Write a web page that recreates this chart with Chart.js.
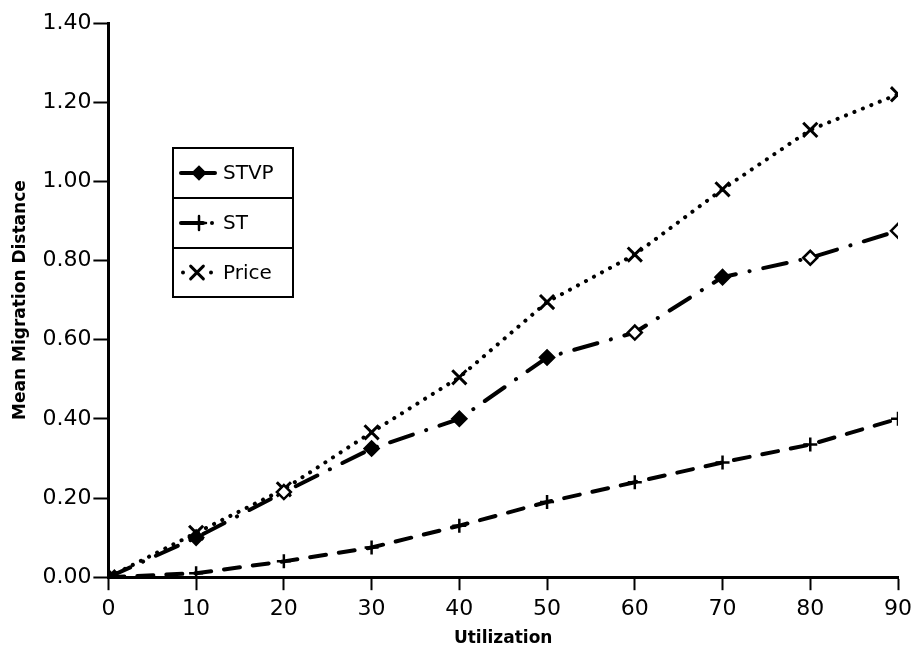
<!DOCTYPE html>
<html>
<head>
<meta charset="utf-8">
<script src="https://cdn.jsdelivr.net/npm/chart.js@4.4.0/dist/chart.umd.min.js"></script>
<style>
  html, body { margin: 0; padding: 0; background: #fff; }
  #wrap { width: 918px; height: 649px; }
</style>
</head>
<body>
<div id="wrap"><canvas id="chart" width="918" height="649"></canvas></div>
<script>
const utilization = [0, 10, 20, 30, 40, 50, 60, 70, 80, 90]
const stvpValues = [0.00, 0.10, 0.215, 0.325, 0.40, 0.555, 0.618, 0.758, 0.807, 0.875]
const stValues = [0.00, 0.01, 0.04, 0.075, 0.13, 0.19, 0.24, 0.29, 0.335, 0.40]
const priceValues = [0.00, 0.112, 0.222, 0.366, 0.505, 0.695, 0.815, 0.98, 1.13, 1.22]
// which STVP markers look hollow in the picture
const stvpHollow = [false, false, true, false, false, false, true, false, true, true]

const seriesNames = ['STVP', 'ST', 'Price']

function toPoints(values) {
    return values.map((v, i) => ({x: utilization[i], y: v}))
}

const fontFamily = "'DejaVu Sans', sans-serif"

const legendBox = {
    id: 'legendBox',
    afterDraw(chart) {
        const ctx = chart.ctx
        const left = 173, w = 120
        const rowTops = [148, 198, 248, 297]
        const draw = Chart.helpers.drawPoint
        ctx.save()
        ctx.strokeStyle = '#000'
        ctx.fillStyle = '#000'
        for (let i = 0; i < 3; i++) {
            const top = rowTops[i]
            const h = rowTops[i + 1] - top
            const cy = top + h / 2
            ctx.lineWidth = 2
            ctx.setLineDash([])
            ctx.strokeRect(left, top, w, h)
            ctx.lineWidth = 4
            ctx.lineCap = 'round'
            if (i === 0) {
                ctx.beginPath(); ctx.moveTo(left + 8, cy); ctx.lineTo(left + 42, cy); ctx.stroke()
                ctx.lineWidth = 2.5
                draw(ctx, {pointStyle: 'rectRot', radius: 6, rotation: 0, borderWidth: 2.5}, left + 26, cy)
                ctx.fill()
            } else if (i === 1) {
                ctx.beginPath(); ctx.moveTo(left + 8, cy); ctx.lineTo(left + 30, cy); ctx.stroke()
                ctx.beginPath(); ctx.arc(left + 39, cy, 2, 0, Math.PI * 2); ctx.fill()
                ctx.lineWidth = 2.5
                draw(ctx, {pointStyle: 'cross', radius: 7, rotation: 0, borderWidth: 2.5}, left + 26, cy)
            } else {
                ctx.beginPath(); ctx.arc(left + 10, cy, 2, 0, Math.PI * 2); ctx.fill()
                ctx.beginPath(); ctx.arc(left + 38, cy, 2, 0, Math.PI * 2); ctx.fill()
                ctx.lineWidth = 3
                draw(ctx, {pointStyle: 'crossRot', radius: 9, rotation: 0, borderWidth: 3}, left + 24, cy)
            }
            ctx.font = '20px ' + fontFamily
            ctx.textBaseline = 'middle'
            ctx.textAlign = 'left'
            ctx.fillText(seriesNames[i], left + 50, cy + 1)
        }
        ctx.restore()
    }
}

const chartConfig = {
    type: 'line',
    data: {
        datasets: [{
            label: seriesNames[0],
            data: toPoints(stvpValues),
            borderColor: '#000',
            borderWidth: 4,
            borderCapStyle: 'round',
            borderDash: [24, 14, 0.1, 14],
            pointStyle: 'rectRot',
            pointRadius: 7,
            pointBorderWidth: 2.5,
            pointBorderColor: '#000',
            pointBackgroundColor: stvpHollow.map(h => h ? '#fff' : '#000'),
            tension: 0
        }, {
            label: seriesNames[1],
            data: toPoints(stValues),
            borderColor: '#000',
            borderWidth: 4,
            borderCapStyle: 'round',
            borderDash: [16, 13],
            pointStyle: 'cross',
            pointRadius: 7,
            pointBorderWidth: 2.5,
            pointBorderColor: '#000',
            tension: 0
        }, {
            label: seriesNames[2],
            data: toPoints(priceValues),
            borderColor: '#000',
            borderWidth: 4,
            borderCapStyle: 'round',
            borderDash: [0.1, 9],
            pointStyle: 'crossRot',
            pointRadius: 10,
            pointBorderWidth: 3,
            pointBorderColor: '#000',
            tension: 0
        }]
    },
    options: {
        responsive: false,
        animation: false,
        layout: {
            padding: {top: 23, right: 13, left: 8, bottom: 0}
        },
        plugins: {
            legend: {display: false},
            tooltip: {enabled: false}
        },
        scales: {
            x: {
                type: 'linear',
                min: 0,
                max: 90,
                ticks: {
                    stepSize: 10,
                    color: '#000',
                    padding: 6,
                    font: {family: fontFamily, size: 22}
                },
                grid: {
                    drawOnChartArea: false,
                    tickLength: 13,
                    tickColor: '#000',
                    tickWidth: 2
                },
                border: {color: '#000', width: 3},
                title: {
                    display: true,
                    text: 'Utilization',
                    color: '#000',
                    padding: {top: 0, bottom: 0},
                    font: {family: fontFamily, size: 17, weight: 'bold'}
                }
            },
            y: {
                min: 0,
                max: 1.4,
                ticks: {
                    stepSize: 0.2,
                    color: '#000',
                    padding: 2,
                    font: {family: fontFamily, size: 22},
                    callback: v => Number(v).toFixed(2)
                },
                grid: {
                    drawOnChartArea: false,
                    tickLength: 15,
                    tickColor: '#000',
                    tickWidth: 2
                },
                border: {color: '#000', width: 3},
                title: {
                    display: true,
                    text: 'Mean Migration Distance',
                    color: '#000',
                    padding: {top: 2, bottom: 10},
                    font: {family: fontFamily, size: 17, weight: 'bold'}
                }
            }
        }
    },
    plugins: [legendBox]
}

const lineChart = new Chart(document.getElementById('chart'), chartConfig)
</script>
</body>
</html>
